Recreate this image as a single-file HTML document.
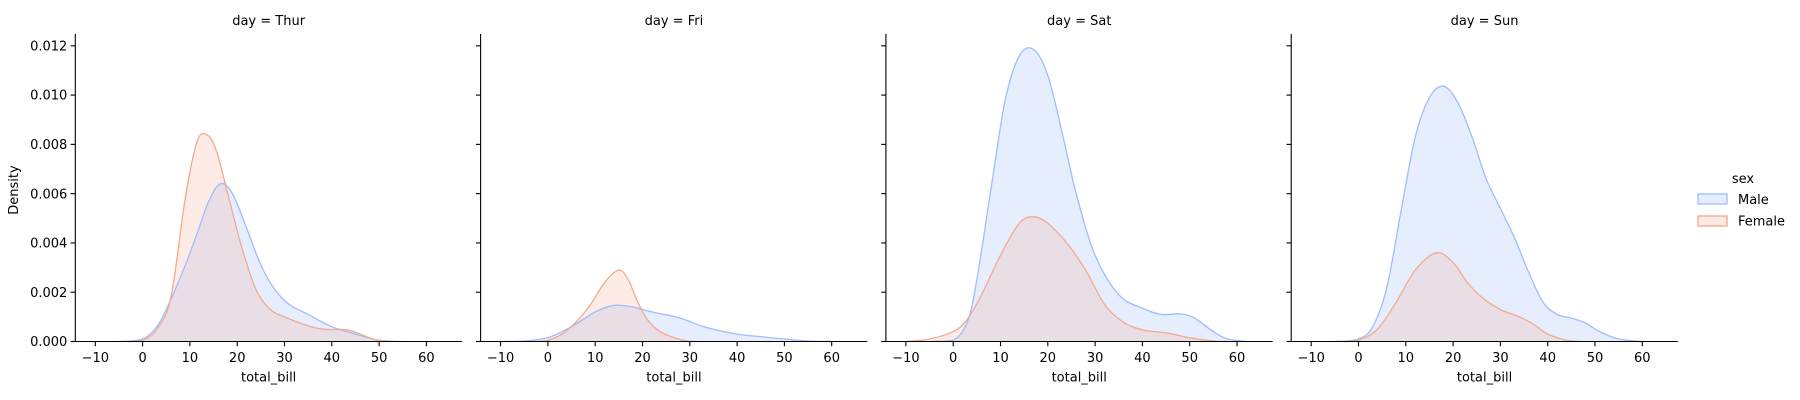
<!DOCTYPE html>
<html><head><meta charset="utf-8"><style>
html,body{margin:0;padding:0;background:#fff}
svg{display:block;font-family:"DejaVu Sans","Liberation Sans",sans-serif}
</style></head><body>
<svg id="s" width="1800" height="400" xmlns="http://www.w3.org/2000/svg"></svg>
<script>
const s=document.getElementById('s');
const NS='http://www.w3.org/2000/svg';
function el(t,a,txt){const e=document.createElementNS(NS,t);for(const k in a)e.setAttribute(k,a[k]);if(txt!==undefined)e.textContent=txt;s.appendChild(e);return e;}
const W=386.7,Y0=341.5,K=24640,TOP=34;
const data=[
 ['Thur',
  [[-5,0],[0,0.0001],[3,0.0006],[5,0.0013],[8,0.0026],[11,0.0041],[14,0.0057],[16.5,0.0064],[19,0.006],[22,0.0046],[25,0.0031],[28,0.0021],[31,0.0015],[35,0.0011],[40,0.0006],[45,0.0003],[50,0.00005],[55,0]],
  [[-3,0],[0,0.00005],[3,0.0005],[6,0.0018],[9,0.0058],[11.5,0.0081],[13.5,0.0084],[15.5,0.0078],[18,0.006],[21,0.0038],[24,0.0021],[27,0.0013],[30,0.001],[34,0.0007],[38,0.0005],[43,0.00048],[46,0.0003],[49,0.00008],[53,0]]],
 ['Fri',
  [[-10,0],[-5,0.00002],[0,0.00016],[5,0.0006],[10,0.0012],[14,0.00147],[18,0.0014],[22,0.0012],[28,0.00095],[33,0.0006],[40,0.0003],[45,0.0002],[50,0.0001],[55,0.00002],[60,0]],
  [[-2,0],[0,0.00005],[3,0.0003],[6,0.0008],[9,0.0015],[12,0.0024],[15,0.0029],[17,0.0025],[19,0.0016],[21,0.0009],[23,0.0005],[26,0.0002],[30,0],[32,0]]],
 ['Sat',
  [[-5,0],[0,0.00005],[3,0.0008],[5,0.0025],[8,0.0062],[11,0.0098],[14,0.0116],[17,0.01185],[20,0.0108],[23,0.0085],[26,0.006],[30,0.0035],[35,0.0019],[40,0.00135],[44,0.0011],[48,0.00112],[51,0.00095],[55,0.0004],[58,0.0001],[62,0]],
  [[-10,0],[-5,0.0001],[0,0.0004],[3,0.0009],[6,0.0019],[10,0.0035],[14,0.0048],[17,0.00506],[20,0.0048],[24,0.004],[28,0.0029],[32,0.0015],[36,0.00078],[40,0.00047],[45,0.00035],[50,0.00015],[55,0.00002],[58,0]]],
 ['Sun',
  [[-5,0],[0,0.0001],[3,0.0006],[6,0.0022],[9,0.0053],[12,0.0083],[15,0.0099],[18,0.01036],[21,0.0097],[24,0.0083],[27,0.0066],[30,0.0054],[33,0.0042],[36,0.0028],[39,0.0016],[42,0.0011],[45,0.00095],[48,0.00075],[51,0.0004],[55,0.0001],[60,0]],
  [[-3,0],[0,0.00005],[4,0.0005],[8,0.0016],[12,0.0029],[16.5,0.0036],[20,0.0032],[23,0.0024],[26,0.0018],[30,0.0013],[34,0.001],[37,0.0007],[40,0.0003],[44,0.00005],[47,0]]]
];
function pathD(pts,L,close){
 const P=pts.map(p=>[L+67.3+p[0]*4.73,Y0-p[1]*K]);
 let d='M'+P[0][0].toFixed(1)+','+P[0][1].toFixed(1);
 for(let i=0;i<P.length-1;i++){
  const p0=P[Math.max(0,i-1)],p1=P[i],p2=P[i+1],p3=P[Math.min(P.length-1,i+2)];
  const c1=[p1[0]+(p2[0]-p0[0])/6,Math.min(Y0,p1[1]+(p2[1]-p0[1])/6)];
  const c2=[p2[0]-(p3[0]-p1[0])/6,Math.min(Y0,p2[1]-(p3[1]-p1[1])/6)];
  d+=' C'+c1[0].toFixed(1)+','+c1[1].toFixed(1)+' '+c2[0].toFixed(1)+','+c2[1].toFixed(1)+' '+p2[0].toFixed(1)+','+p2[1].toFixed(1);
 }
 if(close)d+=' L'+P[P.length-1][0].toFixed(1)+','+Y0+' L'+P[0][0].toFixed(1)+','+Y0+' Z';
 return d;
}
const MB='#9dbdfd',FC='#f4a98b';
data.forEach((dd,i)=>{
 const L=75.3+405.3*i;
 el('text',{x:L+W/2,y:25,'text-anchor':'middle','font-size':13,fill:'#000'},'day = '+dd[0]);
 el('path',{d:pathD(dd[1],L,true),fill:MB,'fill-opacity':0.25,stroke:'none'});
 el('path',{d:pathD(dd[2],L,true),fill:FC,'fill-opacity':0.22,stroke:'none'});
 el('path',{d:pathD(dd[1],L,false),fill:'none',stroke:MB,'stroke-width':1.3});
 el('path',{d:pathD(dd[2],L,false),fill:'none',stroke:FC,'stroke-width':1.3});
 el('line',{x1:L,y1:TOP,x2:L,y2:Y0,stroke:'#000','stroke-width':1.1});
 el('line',{x1:L,y1:Y0,x2:L+W,y2:Y0,stroke:'#000','stroke-width':1.1});
 for(let k=0;k<=6;k++){
  const y=Y0-k*0.002*K;
  el('line',{x1:L-4.7,y1:y,x2:L,y2:y,stroke:'#000','stroke-width':1.1});
  if(i===0)el('text',{x:L-8,y:y+4.6,'text-anchor':'end','font-size':13,fill:'#000'},(k*0.002).toFixed(3));
 }
 for(let v=-10;v<=60;v+=10){
  const x=L+67.3+v*4.73;
  el('line',{x1:x,y1:Y0,x2:x,y2:Y0+4.7,stroke:'#000','stroke-width':1.1});
  el('text',{x:x,y:362,'text-anchor':'middle','font-size':13,fill:'#000'},v<0?'\u2212'+(-v):String(v));
 }
 el('text',{x:L+W/2,y:381.5,'text-anchor':'middle','font-size':13,fill:'#000'},'total_bill');
});
el('text',{x:0,y:0,'text-anchor':'middle','font-size':13,fill:'#000',transform:'translate(18,190) rotate(-90)'},'Density');
el('text',{x:1743,y:183,'text-anchor':'middle','font-size':13,fill:'#000'},'sex');
el('rect',{x:1698,y:194,width:29,height:10,fill:MB,'fill-opacity':0.25,stroke:MB,'stroke-width':1.3});
el('rect',{x:1698,y:216,width:29,height:10,fill:FC,'fill-opacity':0.25,stroke:FC,'stroke-width':1.3});
el('text',{x:1738,y:204,'font-size':13,fill:'#000'},'Male');
el('text',{x:1738,y:225.5,'font-size':13,fill:'#000'},'Female');
</script>
</body></html>
